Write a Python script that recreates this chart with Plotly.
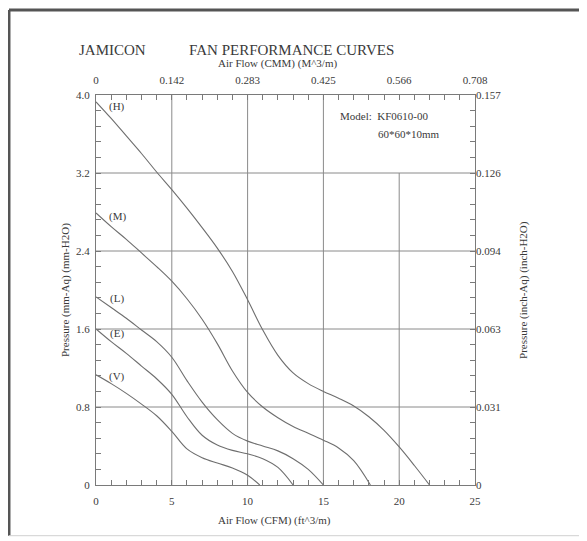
import plotly.graph_objects as go

# ---------------- data ----------------
cfm_H = [0, 1, 2, 3, 4, 5, 6, 7, 8, 9, 10, 11, 12, 13, 14, 15, 16, 17, 18, 19, 20, 21, 22]
p_H = [3.93, 3.76, 3.58, 3.40, 3.21, 3.03, 2.84, 2.64, 2.43, 2.19, 1.90, 1.59, 1.33, 1.15, 1.04, 0.96, 0.89, 0.81, 0.70, 0.56, 0.39, 0.20, 0.0]

cfm_M = [0, 1, 2, 3, 4, 5, 6, 7, 8, 9, 10, 11, 12, 13, 14, 15, 16, 17, 18.1]
p_M = [2.79, 2.65, 2.52, 2.38, 2.24, 2.09, 1.91, 1.70, 1.45, 1.17, 0.95, 0.80, 0.69, 0.60, 0.53, 0.46, 0.38, 0.25, 0.0]

cfm_L = [0, 1, 2, 3, 4, 5, 6, 7, 8, 9, 10, 11, 12, 13, 14, 15]
p_L = [1.93, 1.82, 1.71, 1.59, 1.47, 1.31, 1.07, 0.85, 0.67, 0.53, 0.45, 0.40, 0.35, 0.27, 0.16, 0.0]

cfm_E = [0, 1, 2, 3, 4, 5, 6, 7, 8, 9, 10, 11, 12, 13]
p_E = [1.60, 1.47, 1.35, 1.22, 1.09, 0.93, 0.70, 0.51, 0.41, 0.355, 0.32, 0.27, 0.18, 0.0]

cfm_V = [0, 1, 2, 3, 4, 5, 6, 7, 8, 9, 10, 10.8]
p_V = [1.13, 1.04, 0.94, 0.83, 0.71, 0.55, 0.37, 0.28, 0.225, 0.175, 0.10, 0.0]

curve_names = ["(H)", "(M)", "(L)", "(E)", "(V)"]
label_pos = [(1.4, 3.88), (1.4, 2.75), (1.4, 1.91), (1.4, 1.55), (1.4, 1.11)]

x_tick_vals = list(range(0, 26))
x_tick_text = [str(v) if v % 5 == 0 else "" for v in x_tick_vals]
cmm_tick_vals = [0, 5, 10, 15, 20, 25]
cmm_tick_text = ["0", "0.142", "0.283", "0.425", "0.566", "0.708"]

y_tick_vals = [round(i * 0.16, 2) for i in range(26)]
y_major_text = {0: "0", 5: "0.8", 10: "1.6", 15: "2.4", 20: "3.2", 25: "4.0"}
y_tick_text = [y_major_text.get(i, "") for i in range(26)]
inch_tick_vals = [0, 0.8, 1.6, 2.4, 3.2, 4.0]
inch_tick_text = ["0", "0.031", "0.063", "0.094", "0.126", "0.157"]

grid_x_full = [5, 10, 15]
grid_x_partial = [(20, 0, 3.2)]
grid_y = [0.8, 1.6, 2.4, 3.2]

# ---------------- figure ----------------
FONT = "Liberation Serif, Times New Roman, serif"
CURVE_COLOR = "#6e6e6e"
AXIS_COLOR = "#7a7a7a"
GRID_COLOR = "#8a8a8a"
TEXT_COLOR = "#3a3a3a"

fig = go.Figure()
for xs, ys in [(cfm_H, p_H), (cfm_M, p_M), (cfm_L, p_L), (cfm_E, p_E), (cfm_V, p_V)]:
    fig.add_trace(go.Scatter(x=xs, y=ys, mode="lines",
                             line=dict(color=CURVE_COLOR, width=1.1, shape="spline", smoothing=1.0),
                             showlegend=False, hoverinfo="skip"))
fig.add_trace(go.Scatter(x=[None], y=[None], xaxis="x2", yaxis="y2", showlegend=False))

shapes = []
for gx in grid_x_full:
    shapes.append(dict(type="line", xref="x", yref="y", x0=gx, x1=gx, y0=0, y1=4.0,
                       line=dict(color=GRID_COLOR, width=1), layer="below"))
for gx, ya, yb in grid_x_partial:
    shapes.append(dict(type="line", xref="x", yref="y", x0=gx, x1=gx, y0=ya, y1=yb,
                       line=dict(color=GRID_COLOR, width=1), layer="below"))
for gy in grid_y:
    shapes.append(dict(type="line", xref="x", yref="y", x0=0, x1=25, y0=gy, y1=gy,
                       line=dict(color=GRID_COLOR, width=1), layer="below"))
# outer page frame
FL, FR, FT, FB = -0.2296, 1.287, 1.218, -0.13
shapes.append(dict(type="line", xref="paper", yref="paper", x0=FL, x1=FL, y0=FB, y1=FT,
                   line=dict(color="#555555", width=3)))
shapes.append(dict(type="line", xref="paper", yref="paper", x0=FL, x1=1.3, y0=FT, y1=FT,
                   line=dict(color="#555555", width=3)))
shapes.append(dict(type="line", xref="paper", yref="paper", x0=FR, x1=FR, y0=FB, y1=FT,
                   line=dict(color="#d0d0d0", width=1)))
shapes.append(dict(type="line", xref="paper", yref="paper", x0=FL, x1=FR, y0=FB, y1=FB,
                   line=dict(color="#d0d0d0", width=1)))

annotations = []
for name, (lx, ly) in zip(curve_names, label_pos):
    annotations.append(dict(x=lx, y=ly, xref="x", yref="y", text=name, showarrow=False,
                            xanchor="center", yanchor="middle",
                            font=dict(family=FONT, size=11, color=TEXT_COLOR)))
annotations.append(dict(x=15.95, y=3.78, xref="x", yref="y", text="Model:&nbsp;&nbsp;KF0610-00",
                        showarrow=False, xanchor="left", yanchor="middle",
                        font=dict(family=FONT, size=11, color=TEXT_COLOR)))
annotations.append(dict(x=18.5, y=3.60, xref="x", yref="y", text="60*60*10mm",
                        showarrow=False, xanchor="left", yanchor="middle",
                        font=dict(family=FONT, size=11, color=TEXT_COLOR)))
annotations.append(dict(x=0.0435, y=1.115, xref="paper", yref="paper", text="JAMICON",
                        showarrow=False, xanchor="center", yanchor="middle",
                        font=dict(family=FONT, size=15, color=TEXT_COLOR)))
annotations.append(dict(x=0.5165, y=1.115, xref="paper", yref="paper", text="FAN PERFORMANCE CURVES",
                        showarrow=False, xanchor="center", yanchor="middle",
                        font=dict(family=FONT, size=15, color=TEXT_COLOR)))
annotations.append(dict(x=0.478, y=1.0795, xref="paper", yref="paper", text="Air Flow (CMM) (M^3/m)",
                        showarrow=False, xanchor="center", yanchor="middle",
                        font=dict(family=FONT, size=11, color=TEXT_COLOR)))
annotations.append(dict(x=0.47, y=-0.09, xref="paper", yref="paper", text="Air Flow (CFM) (ft^3/m)",
                        showarrow=False, xanchor="center", yanchor="middle",
                        font=dict(family=FONT, size=11, color=TEXT_COLOR)))
annotations.append(dict(x=-0.0818, y=0.5, xref="paper", yref="paper", text="Pressure (mm-Aq) (mm-H2O)",
                        showarrow=False, xanchor="center", yanchor="middle", textangle=-90,
                        font=dict(family=FONT, size=11, color=TEXT_COLOR)))
annotations.append(dict(x=1.1266, y=0.5, xref="paper", yref="paper", text="Pressure (inch-Aq) (inch-H2O)",
                        showarrow=False, xanchor="center", yanchor="middle", textangle=-90,
                        font=dict(family=FONT, size=11, color=TEXT_COLOR)))

tickfont = dict(family=FONT, size=11, color=TEXT_COLOR)
# the page body has an 8px margin, so the figure is shifted to keep the plot box in place
fig.update_layout(
    width=579, height=533,
    margin=dict(l=88, r=112, t=87, b=56),
    paper_bgcolor="white", plot_bgcolor="white",
    showlegend=False,
    xaxis=dict(range=[0, 25], tickmode="array", tickvals=x_tick_vals, ticktext=x_tick_text,
               ticks="inside", ticklen=5, tickcolor=AXIS_COLOR, showgrid=False, zeroline=False,
               showline=True, linecolor=AXIS_COLOR, linewidth=1, mirror="ticks",
               tickfont=tickfont, ticklabelstandoff=6),
    yaxis=dict(range=[0, 4.0], tickmode="array", tickvals=y_tick_vals, ticktext=y_tick_text,
               ticks="inside", ticklen=5, tickcolor=AXIS_COLOR, showgrid=False, zeroline=False,
               showline=True, linecolor=AXIS_COLOR, linewidth=1, mirror="ticks",
               tickfont=tickfont, ticklabelstandoff=3),
    xaxis2=dict(range=[0, 25], overlaying="x", side="top", tickmode="array",
                tickvals=cmm_tick_vals, ticktext=cmm_tick_text, ticks="", showgrid=False,
                zeroline=False, showline=False, tickfont=tickfont, ticklabelstandoff=8),
    yaxis2=dict(range=[0, 4.0], overlaying="y", side="right", tickmode="array",
                tickvals=inch_tick_vals, ticktext=inch_tick_text, ticks="", showgrid=False,
                zeroline=False, showline=False, tickfont=tickfont, ticklabelstandoff=0),
    shapes=shapes,
    annotations=annotations,
)

fig.write_html("out.html")
